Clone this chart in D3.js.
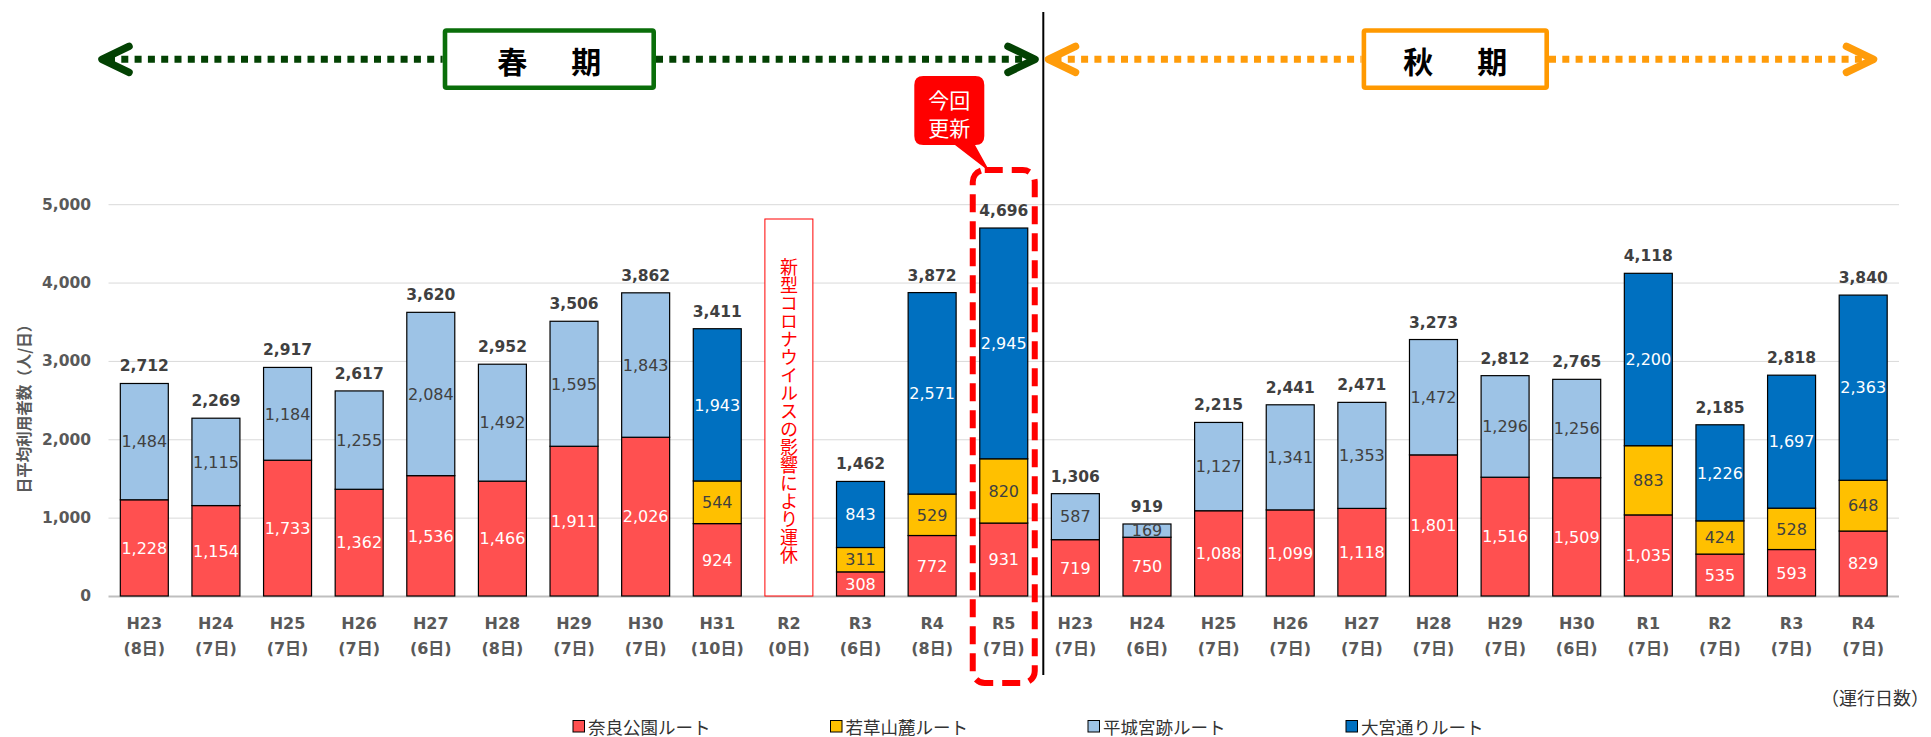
<!DOCTYPE html>
<html><head><meta charset="utf-8">
<script src="https://cdn.jsdelivr.net/npm/d3@7"></script>
<style>body{margin:0;background:#fff}svg{display:block;background:#fff}</style>
</head><body><svg id="c" width="1931" height="737"></svg>
<script>
// ---- data ----
const springYears = ["H23","H24","H25","H26","H27","H28","H29","H30","H31","R2","R3","R4","R5"];
const springDays  = ["(8日)","(7日)","(7日)","(7日)","(6日)","(8日)","(7日)","(7日)","(10日)","(0日)","(6日)","(8日)","(7日)"];
const autumnYears = ["H23","H24","H25","H26","H27","H28","H29","H30","R1","R2","R3","R4"];
const autumnDays  = ["(7日)","(6日)","(7日)","(7日)","(7日)","(7日)","(7日)","(6日)","(7日)","(7日)","(7日)","(7日)"];

// spring (13) then autumn (12)
const naraPark = [1228,1154,1733,1362,1536,1466,1911,2026,924,null,308,772,931,
                  719,750,1088,1099,1118,1801,1516,1509,1035,535,593,829];
const wakakusa = [null,null,null,null,null,null,null,null,544,null,311,529,820,
                  null,null,null,null,null,null,null,null,883,424,528,648];
const heijo    = [1484,1115,1184,1255,2084,1492,1595,1843,null,null,null,null,null,
                  587,169,1127,1341,1353,1472,1296,1256,null,null,null,null];
const omiya    = [null,null,null,null,null,null,null,null,1943,null,843,2571,2945,
                  null,null,null,null,null,null,null,null,2200,1226,1697,2363];
const totals   = [2712,2269,2917,2617,3620,2952,3506,3862,3411,null,1462,3872,4696,
                  1306,919,2215,2441,2471,3273,2812,2765,4118,2185,2818,3840];

const seriesNames = ["奈良公園ルート","若草山麓ルート","平城宮跡ルート","大宮通りルート"];
const seriesColors = ["#FF5050","#FFC000","#9DC3E6","#0070C0"];
const seriesTextColors = ["#ffffff","#404040","#404040","#ffffff"];
const yTicks = [0,1000,2000,3000,4000,5000];
const yTitle = "日平均利用者数（人/日）";
const covidNote = "新型コロナウイルスの影響により運休";
const springTitle = "春　期";
const autumnTitle = "秋　期";
const calloutLines = ["今回","更新"];
const daysNote = "（運行日数）";

// ---- build ----
const svg = d3.select("#c");
const NUM = "'DejaVu Sans','Noto Sans CJK JP',sans-serif";
const JP = "'Noto Sans CJK JP','DejaVu Sans',sans-serif";

const keys = springYears.map(d => "S" + d).concat(autumnYears.map(d => "A" + d));
const yearLabels = springYears.concat(autumnYears);
const dayLabels = springDays.concat(autumnDays);
const seriesArrays = [naraPark, wakakusa, heijo, omiya];
const seriesKeys = ["s0","s1","s2","s3"];
const rows = keys.map((k, i) => {
  const r = {key: k, i: i};
  seriesKeys.forEach((s, j) => r[s] = seriesArrays[j][i] || 0);
  return r;
});

const x = d3.scaleBand().domain(keys).range([108.5, 1899]).paddingInner(0.33).paddingOuter(0.165);
const y = d3.scaleLinear().domain([0, 5000]).range([596, 204.2]);
const fmt = d3.format(",");

// gridlines + y labels
const yAxis = d3.axisLeft(y).tickValues(yTicks).tickFormat(fmt)
  .tickSize(-(1899 - 108.5)).tickPadding(17.5);
const ga = svg.append("g").attr("transform", "translate(108.5,0)").call(yAxis);
ga.select(".domain").remove();
ga.selectAll(".tick line").attr("stroke", "#D9D9D9").attr("stroke-width", 1)
  .filter(d => d === 0).attr("stroke", "#BFBFBF").attr("stroke-width", 2);
ga.selectAll(".tick text").attr("fill", "#595959").attr("font-family", NUM)
  .attr("font-weight", "bold").attr("font-size", "15.5px");

// y title
svg.append("text").attr("transform", "translate(23,405) rotate(-90)")
  .attr("text-anchor", "middle").attr("dominant-baseline", "central")
  .attr("font-family", JP).attr("font-weight", "bold").attr("font-size", "15.5px")
  .attr("fill", "#595959").text(yTitle);

// bars
const stacked = d3.stack().keys(seriesKeys)(rows);
stacked.forEach((layer, j) => {
  const g = svg.append("g");
  const segs = layer.filter(d => d[1] - d[0] > 0);
  g.selectAll("rect").data(segs).join("rect")
    .attr("x", d => x(d.data.key)).attr("width", x.bandwidth())
    .attr("y", d => y(d[1])).attr("height", d => y(d[0]) - y(d[1]))
    .attr("fill", seriesColors[j]).attr("stroke", "#000").attr("stroke-width", 1.2);
  g.selectAll("text").data(segs).join("text")
    .attr("x", d => x(d.data.key) + x.bandwidth() / 2)
    .attr("y", d => (y(d[0]) + y(d[1])) / 2).attr("dy", "0.36em")
    .attr("text-anchor", "middle").attr("font-family", NUM).attr("font-size", "16px")
    .attr("fill", seriesTextColors[j]).text(d => fmt(d[1] - d[0]));
});

// totals
const topLayer = stacked[stacked.length - 1];
svg.append("g").selectAll("text").data(rows.filter(r => totals[r.i] != null)).join("text")
  .attr("x", r => x(r.key) + x.bandwidth() / 2)
  .attr("y", r => y(topLayer[r.i][1]) - 12)
  .attr("text-anchor", "middle").attr("font-family", NUM).attr("font-weight", "bold")
  .attr("font-size", "15.5px").attr("fill", "#404040").text(r => fmt(totals[r.i]));

// x labels
const gx = svg.append("g");
gx.selectAll("text.yr").data(keys).join("text").attr("class", "yr")
  .attr("x", k => x(k) + x.bandwidth() / 2).attr("y", 623).attr("dy", "0.36em")
  .attr("text-anchor", "middle").attr("font-family", NUM).attr("font-weight", "bold")
  .attr("font-size", "16px").attr("fill", "#595959").text((k, i) => yearLabels[i]);
gx.selectAll("text.dy").data(keys).join("text").attr("class", "dy")
  .attr("x", k => x(k) + x.bandwidth() / 2).attr("y", 648).attr("dy", "0.36em")
  .attr("text-anchor", "middle").attr("font-family", NUM).attr("font-weight", "bold")
  .attr("font-size", "16px").attr("fill", "#595959").text((k, i) => dayLabels[i]);

// days note
svg.append("text").attr("x", 1929).attr("y", 697).attr("dominant-baseline", "central")
  .attr("text-anchor", "end").attr("font-family", JP).attr("font-size", "18px")
  .attr("fill", "#333").text(daysNote);

// covid box at spring R2
const kR2 = "SR2";
svg.append("rect").attr("x", x(kR2)).attr("width", x.bandwidth())
  .attr("y", 219).attr("height", y(0) - 219)
  .attr("fill", "#fff").attr("stroke", "#FF0000").attr("stroke-width", 1);
svg.append("text").attr("x", x(kR2) + x.bandwidth() / 2).attr("y", 411)
  .style("writing-mode", "vertical-rl").attr("text-anchor", "middle")
  .attr("font-family", JP).attr("font-size", "18px").attr("fill", "#FF0000").text(covidNote);

// dashed highlight around R5
const kR5 = "SR5";
const cx5 = x(kR5) + x.bandwidth() / 2;
svg.append("rect").attr("x", cx5 - 31).attr("y", 170).attr("width", 62).attr("height", 513)
  .attr("rx", 12).attr("fill", "none").attr("stroke", "#FF0000").attr("stroke-width", 6)
  .attr("stroke-dasharray", "18,9");

// callout
const co = {x0: 914.3, x1: 984.3, y0: 76, y1: 145, r: 9};
const cp = d3.path();
cp.moveTo(co.x0 + co.r, co.y0);
cp.lineTo(co.x1 - co.r, co.y0); cp.quadraticCurveTo(co.x1, co.y0, co.x1, co.y0 + co.r);
cp.lineTo(co.x1, co.y1 - co.r); cp.quadraticCurveTo(co.x1, co.y1, co.x1 - co.r, co.y1);
cp.lineTo(975, co.y1); cp.lineTo(990, 172); cp.lineTo(955, co.y1);
cp.lineTo(co.x0 + co.r, co.y1); cp.quadraticCurveTo(co.x0, co.y1, co.x0, co.y1 - co.r);
cp.lineTo(co.x0, co.y0 + co.r); cp.quadraticCurveTo(co.x0, co.y0, co.x0 + co.r, co.y0);
cp.closePath();
svg.append("path").attr("d", cp.toString()).attr("fill", "#FF0000");
calloutLines.forEach((t, i) => {
  svg.append("text").attr("x", 949.3).attr("y", 98.5 + i * 28.5).attr("dominant-baseline", "central")
    .attr("text-anchor", "middle").attr("font-family", JP).attr("font-size", "21px")
    .attr("fill", "#fff").text(t);
});

// separator
svg.append("line").attr("x1", 1043.3).attr("x2", 1043.3).attr("y1", 12).attr("y2", 675)
  .attr("stroke", "#000").attr("stroke-width", 2);

// period arrows
function periodArrow(o) {
  const g = svg.append("g");
  const ay = 59.3;
  g.append("line").attr("x1", o.l + 6).attr("x2", o.bx0).attr("y1", ay).attr("y2", ay)
    .attr("stroke", o.dot).attr("stroke-width", 7).attr("stroke-dasharray", "7,6.3");
  g.append("line").attr("x1", o.bx1).attr("x2", o.r - 6).attr("y1", ay).attr("y2", ay)
    .attr("stroke", o.dot).attr("stroke-width", 7).attr("stroke-dasharray", "7,6.3");
  g.append("polyline").attr("points", `${o.l + 27},${ay - 13} ${o.l},${ay} ${o.l + 27},${ay + 13}`)
    .attr("fill", "none").attr("stroke", o.dot).attr("stroke-width", 7.5)
    .attr("stroke-linecap", "round").attr("stroke-linejoin", "round");
  g.append("polyline").attr("points", `${o.r - 27},${ay - 13} ${o.r},${ay} ${o.r - 27},${ay + 13}`)
    .attr("fill", "none").attr("stroke", o.dot).attr("stroke-width", 7.5)
    .attr("stroke-linecap", "round").attr("stroke-linejoin", "round");
  g.append("rect").attr("x", o.bx0 + 2.3).attr("y", 30.5).attr("width", o.bx1 - o.bx0 - 4.6)
    .attr("height", 57.2).attr("rx", 1.5).attr("fill", "#fff").attr("stroke", o.box).attr("stroke-width", 4.6);
  g.append("text").attr("x", (o.bx0 + o.bx1) / 2 + 3.5).attr("y", 60)
    .attr("dominant-baseline", "central").attr("text-anchor", "middle")
    .attr("font-family", JP).attr("font-weight", "bold").attr("font-size", "30px")
    .attr("letter-spacing", "7px").attr("fill", "#000").text(o.title);
}
periodArrow({l: 102, r: 1035, bx0: 442.7, bx1: 656, dot: "#034203", box: "#0A6E0A", title: springTitle});
periodArrow({l: 1048.5, r: 1873.5, bx0: 1361.6, bx1: 1549, dot: "#FF9C0A", box: "#FF9900", title: autumnTitle});

// legend
const lx = [573, 830.5, 1088, 1346];
const lg = svg.append("g");
seriesNames.forEach((n, j) => {
  lg.append("rect").attr("x", lx[j]).attr("y", 720.5).attr("width", 11.5).attr("height", 11.5)
    .attr("fill", seriesColors[j]).attr("stroke", "#000").attr("stroke-width", 1);
  lg.append("text").attr("x", lx[j] + 15).attr("y", 726).attr("dominant-baseline", "central")
    .attr("font-family", JP).attr("font-size", "17.5px").attr("fill", "#333").text(n);
});
</script>
</body></html>
